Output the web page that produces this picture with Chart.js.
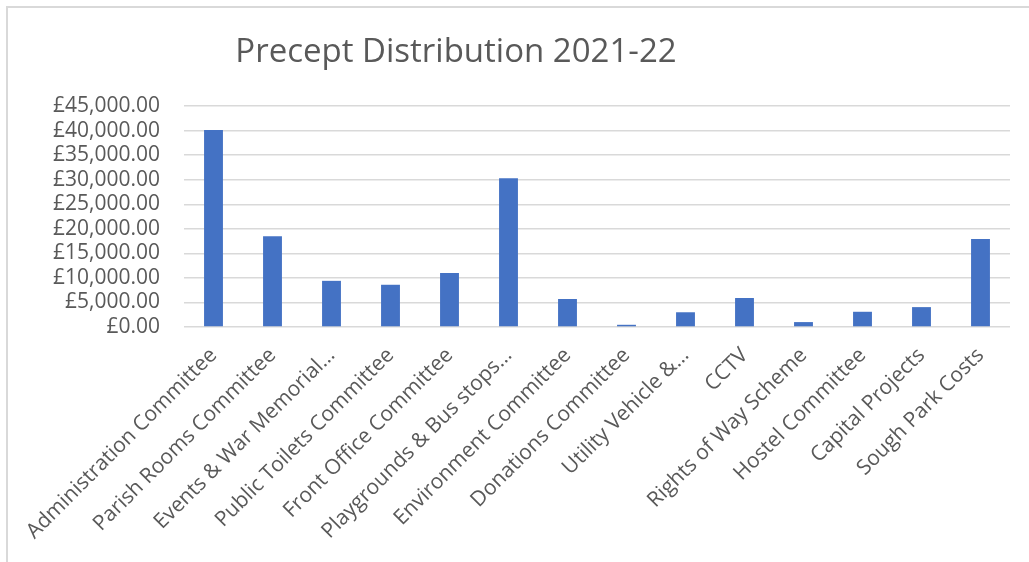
<!DOCTYPE html>
<html>
<head>
<meta charset="utf-8">
<script src="https://cdn.jsdelivr.net/npm/chart.js@4"></script>
<style>
  html, body { margin: 0; padding: 0; overflow: hidden; background: #fff; }
  #wrap {
    position: absolute; left: 6px; top: 6px;
    width: 1040px; height: 560px;
    border: 2px solid #d9d9d9;
  }
</style>
</head>
<body>
<div id="wrap"><canvas id="preceptChart"></canvas></div>
<script>
// Precept Distribution 2021-22
const categories = [
  'Administration Committee',
  'Parish Rooms Committee',
  'Events & War Memorial\u2026',
  'Public Toilets Committee',
  'Front Office Committee',
  'Playgrounds & Bus stops\u2026',
  'Environment Committee',
  'Donations Committee',
  'Utility Vehicle &\u2026',
  'CCTV',
  'Rights of Way Scheme',
  'Hostel Committee',
  'Capital Projects',
  'Sough Park Costs'
];
const amounts = [40100, 18500, 9400, 8600, 11000, 30300, 5700, 450, 3000, 5900, 1000, 3100, 4050, 17900];
const yTicks = { min: 0, max: 45000, step: 5000 };
const chartTitle = 'Precept Distribution 2021-22';

const textColor = '#595959';
const fontFamily = '"Open Sans", "Noto Sans", sans-serif';

// title sits left of centre in the original, so draw it ourselves
const titlePlugin = {
  id: 'offsetTitle',
  afterDraw(chart) {
    const ctx = chart.ctx;
    ctx.save();
    ctx.fillStyle = textColor;
    ctx.font = '33px ' + fontFamily;
    ctx.textAlign = 'center';
    ctx.textBaseline = 'middle';
    ctx.fillText(chartTitle, 448, 45);
    ctx.restore();
  }
};

const gbp = new Intl.NumberFormat('en-GB', { minimumFractionDigits: 2, maximumFractionDigits: 2 });

new Chart(document.getElementById('preceptChart'), {
  type: 'bar',
  data: {
    labels: categories,
    datasets: [{
      label: 'Precept',
      data: amounts,
      backgroundColor: '#4472C4',
      borderWidth: 0,
      categoryPercentage: 1,
      barPercentage: 0.32
    }]
  },
  options: {
    responsive: true,
    maintainAspectRatio: false,
    animation: false,
    layout: { padding: { top: 98, right: 38, left: 0, bottom: 0 } },
    plugins: {
      legend: { display: false },
      title: { display: false },
      tooltip: { enabled: false }
    },
    scales: {
      x: {
        grid: { display: false },
        border: { display: false },
        ticks: {
          color: textColor,
          font: { family: fontFamily, size: 21 },
          minRotation: 45,
          maxRotation: 45,
          autoSkip: false,
          padding: 8
        },
        afterFit(scale) { scale.height = 241; }
      },
      y: {
        min: yTicks.min,
        max: yTicks.max,
        grid: { color: '#d9d9d9', lineWidth: 1.4, drawTicks: false },
        border: { display: false },
        ticks: {
          stepSize: yTicks.step,
          autoSkip: false,
          color: textColor,
          font: { family: fontFamily, size: 21 },
          padding: 24,
          callback: v => '£' + gbp.format(v)
        },
        afterFit(scale) { scale.width = 176; }
      }
    }
  },
  plugins: [titlePlugin]
});
</script>
</body>
</html>
